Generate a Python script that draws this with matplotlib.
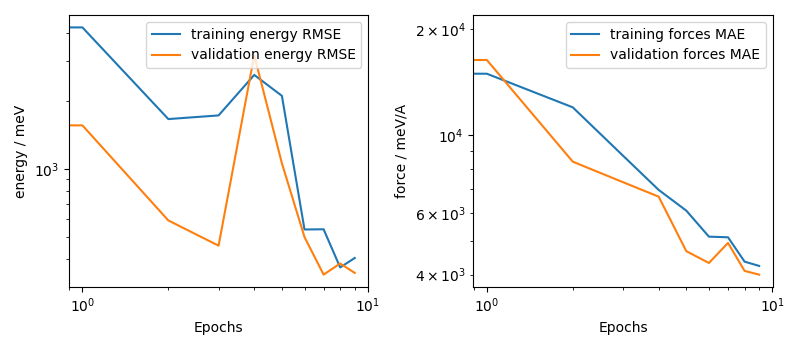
import matplotlib
matplotlib.use("Agg")
import matplotlib.pyplot as plt

epochs = [0, 1, 2, 3, 4, 5, 6, 7, 8, 9]

train_energy = [4222, 4222, 1661, 1724, 2603, 2104, 540, 541, 367, 404]
val_energy = [1558, 1558, 592, 458, 3178, 1059, 500, 341, 382, 347]

train_forces = [20260, 14950, 11990, 8730, 6974, 6086, 5131, 5110, 4355, 4234]
val_forces = [16360, 16360, 8394, 7336, 6672, 4664, 4317, 4924, 4098, 3999]

fig, (ax1, ax2) = plt.subplots(1, 2, figsize=(8, 3.5), dpi=100)
fig.subplots_adjust(left=0.086, right=0.966, bottom=0.18, top=0.957, wspace=0.35)

ax1.plot(epochs, train_energy, label="training energy RMSE")
ax1.plot(epochs, val_energy, label="validation energy RMSE")
ax1.set_xscale("log")
ax1.set_yscale("log")
ax1.set_xlabel("Epochs")
ax1.set_ylabel("energy / meV")
ax1.legend(loc="upper right")

ax2.plot(epochs, train_forces, label="training forces MAE")
ax2.plot(epochs, val_forces, label="validation forces MAE")
ax2.set_xscale("log")
ax2.set_yscale("log")
ax2.set_xlabel("Epochs")
ax2.set_ylabel("force / meV/A")
ax2.legend(loc="upper right")

fig.savefig("out.png", dpi=100)
